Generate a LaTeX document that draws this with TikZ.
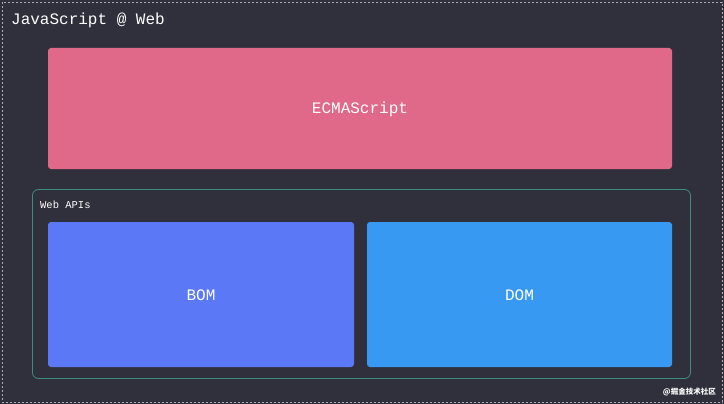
\documentclass[tikz,border=0pt]{standalone}
\usepackage{fontspec}
\setmonofont{Liberation Mono}
\newfontfamily\cjk{Noto Sans CJK SC}
\definecolor{bgc}{HTML}{2F303B}
\definecolor{pinkc}{HTML}{E06889}
\definecolor{bomc}{HTML}{5B79F7}
\definecolor{domc}{HTML}{3799F2}
\definecolor{grnc}{HTML}{3E8C7C}
\definecolor{dashc}{HTML}{B8A8B4}
\begin{document}
\begin{tikzpicture}[x=1pt,y=-1pt,
  every node/.style={inner sep=0pt}]
\useasboundingbox (0,0) rectangle (724,404);
\fill[bgc] (0,0) rectangle (724,404);
\draw[dashc,dashed,line width=0.6pt,dash pattern=on 2pt off 2pt] (2,2) rectangle (722,402);
\node[anchor=west,text=white,font=\ttfamily\fontsize{16}{18}\selectfont] (title) at (11,20) {JavaScript @ Web};
\fill[pinkc,rounded corners=3pt] (48,48) rectangle (672,169);
\node[text=white,font=\ttfamily\fontsize{16}{18}\selectfont] (ecma) at (360,109) {ECMAScript};
\draw[grnc,line width=0.8pt,rounded corners=6pt] (32.5,189.5) rectangle (690.5,378.5);
\node[anchor=west,text=white,font=\ttfamily\fontsize{10.5}{12}\selectfont] (webapi) at (40,205) {Web APIs};
\fill[bomc,rounded corners=3pt] (48,222) rectangle (354,367);
\node[text=white,font=\ttfamily\fontsize{16}{18}\selectfont] (bom) at (201,295) {BOM};
\fill[domc,rounded corners=3pt] (367,222) rectangle (672,367);
\node[text=white,font=\ttfamily\fontsize{16}{18}\selectfont] (dom) at (519.5,295) {DOM};
\node[anchor=east,text=white,font=\cjk\bfseries\fontsize{7.5}{9}\selectfont] (wm) at (716,392) {@掘金技术社区};
\end{tikzpicture}
\end{document}
